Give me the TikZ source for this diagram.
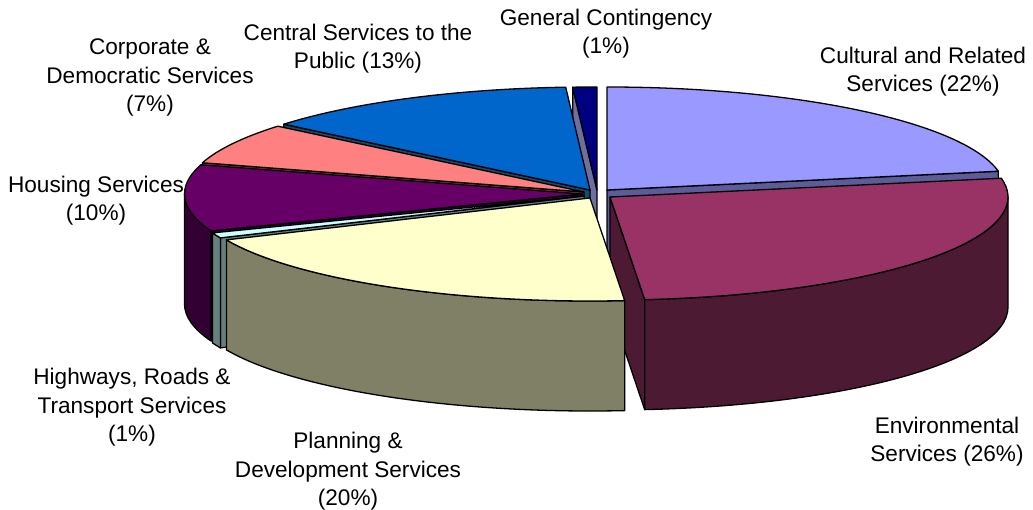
\documentclass[tikz,border=0pt]{standalone}
\usepackage{fontspec}
\setmainfont{Liberation Sans}
\usepackage{tikz}
\usetikzlibrary{calc}
\definecolor{culTop}{HTML}{9999FF}
\definecolor{culSide}{HTML}{5C5C99}
\definecolor{envTop}{HTML}{993366}
\definecolor{envSide}{HTML}{4D1A33}
\definecolor{plaTop}{HTML}{FFFFCC}
\definecolor{plaSide}{HTML}{808066}
\definecolor{higTop}{HTML}{CCFFFF}
\definecolor{higSide}{HTML}{668080}
\definecolor{houTop}{HTML}{660066}
\definecolor{houSide}{HTML}{330033}
\definecolor{corTop}{HTML}{FF8080}
\definecolor{corSide}{HTML}{804040}
\definecolor{cenTop}{HTML}{0066CC}
\definecolor{cenSide}{HTML}{1A4A6A}
\definecolor{genTop}{HTML}{000080}
\definecolor{genSide}{HTML}{6F6F9F}

\begin{document}
\begin{tikzpicture}[x=1pt, y=1pt,
    face/.style={draw=black, line width=1.3pt, line join=round},
    rim/.style={x radius=398, y radius=103},
    slicelabel/.style={font=\fontsize{22.6}{28.5}\selectfont, align=center}
]
    \useasboundingbox (0,0) rectangle (1033,-510);

    \coordinate (gen) at (597,-190);
    \coordinate (cen) at (590,-190);
    \coordinate (cul) at (607,-190);
    \coordinate (cor) at (584,-192);
    \coordinate (hou) at (582.5,-194);
    \coordinate (hig) at (584,-196);
    \coordinate (env) at (610,-197);
    \coordinate (pla) at (590,-198);

    % general contingency
    \draw[face, fill=genSide] (gen) -- ++(93.5:398 and 103) -- ++(0,-110) -- ($(gen)+(0,-110)$) -- cycle;
    \draw[face, fill=genTop] (gen) -- ++(90:398 and 103) arc[rim, start angle=90, end angle=93.5] -- cycle;

    % central services
    \draw[face, fill=cenSide] (cen) -- ++(140.3:398 and 103) -- ++(0,-110) -- ($(cen)+(0,-110)$) -- cycle;
    \draw[face, fill=cenTop] (cen) -- ++(93.5:398 and 103) arc[rim, start angle=93.5, end angle=140.3] -- cycle;

    % cultural
    \draw[face, fill=culSide] (cul) -- ++(10.5:398 and 103) -- ++(0,-110) -- ($(cul)+(0,-110)$) -- cycle;
    \draw[face, fill=culTop] (cul) -- ++(10.5:398 and 103) arc[rim, start angle=10.5, end angle=90] -- cycle;

    % corporate
    \draw[face, fill=corSide] (cor) -- ++(163.5:398 and 103) -- ++(0,-110) -- ($(cor)+(0,-110)$) -- cycle;
    \draw[face, fill=corTop] (cor) -- ++(140.3:398 and 103) arc[rim, start angle=140.3, end angle=163.5] -- cycle;

    % housing
    \draw[face, fill=houSide] (hou) -- ++(201:398 and 103) -- ++(0,-110) -- ($(hou)+(0,-110)$) -- cycle;
    \draw[face, fill=houSide] ($(hou)+(180:398 and 103)$) arc[rim, start angle=180, end angle=201] -- ++(0,-110) arc[rim, start angle=201, end angle=180] -- cycle;
    \draw[face, fill=houTop] (hou) -- ++(163.5:398 and 103) arc[rim, start angle=163.5, end angle=201] -- cycle;

    % highways
    \draw[face, fill=higSide] (hig) -- ++(204:398 and 103) -- ++(0,-110) -- ($(hig)+(0,-110)$) -- cycle;
    \draw[face, fill=higSide] ($(hig)+(201:398 and 103)$) arc[rim, start angle=201, end angle=204] -- ++(0,-110) arc[rim, start angle=204, end angle=201] -- cycle;
    \draw[face, fill=higTop] (hig) -- ++(201:398 and 103) arc[rim, start angle=201, end angle=204] -- cycle;

    % environmental
    \draw[face, fill=envSide] (env) -- ++(275:398 and 103) -- ++(0,-110) -- ($(env)+(0,-110)$) -- cycle;
    \draw[face, fill=envSide] ($(env)+(275:398 and 103)$) arc[rim, start angle=275, end angle=360] -- ++(0,-110) arc[rim, start angle=360, end angle=275] -- cycle;
    \draw[face, fill=envTop] (env) -- ++(275:398 and 103) arc[rim, start angle=275, end angle=370.5] -- cycle;

    % planning
    \draw[face, fill=plaSide] ($(pla)+(204:398 and 103)$) arc[rim, start angle=204, end angle=275] -- ++(0,-110) arc[rim, start angle=275, end angle=204] -- cycle;
    \draw[face, fill=plaTop] (pla) -- ++(204:398 and 103) arc[rim, start angle=204, end angle=275] -- cycle;

    \node[slicelabel] (genlabel) at (606,-33.5) {General Contingency\\(1\%)};
    \node[slicelabel] (cullabel) at (923,-71.5) {Cultural and Related\\Services (22\%)};
    \node[slicelabel] (cenlabel) at (358,-48.5) {Central Services to the\\Public (13\%)};
    \node[slicelabel] (corlabel) at (150,-77.5) {Corporate \&\\Democratic Services\\(7\%)};
    \node[slicelabel] (houlabel) at (96,-200.5) {Housing Services\\(10\%)};
    \node[slicelabel] (higlabel) at (132,-407.5) {Highways, Roads \&\\Transport Services\\(1\%)};
    \node[slicelabel] (plalabel) at (348,-471.5) {Planning \&\\Development Services\\(20\%)};
    \node[slicelabel] (envlabel) at (947,-441.5) {Environmental\\Services (26\%)};
\end{tikzpicture}
\end{document}
